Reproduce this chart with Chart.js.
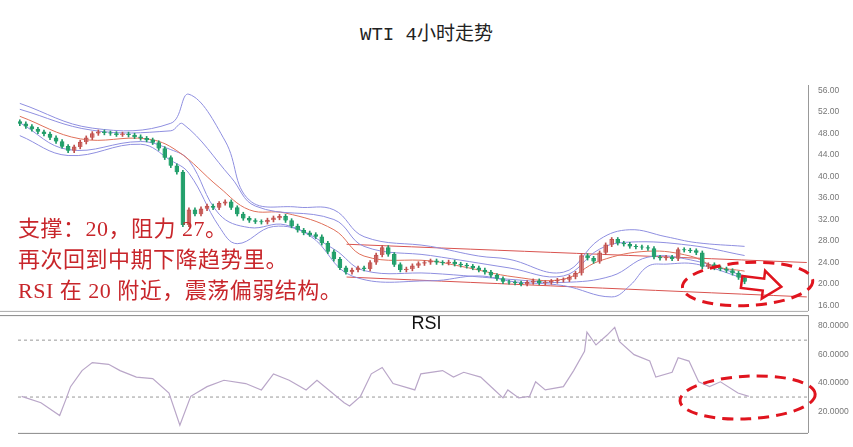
<!DOCTYPE html>
<html><head><meta charset="utf-8">
<script src="https://cdn.jsdelivr.net/npm/chart.js@4.4.0/dist/chart.umd.min.js"></script>
<style>
body{margin:0;background:#fff;width:853px;height:447px;overflow:hidden;position:relative;font-family:"Noto Sans CJK SC",sans-serif}
#title{position:absolute;top:18px;left:0;width:853px;text-align:center;font:19px "Liberation Mono","Noto Sans CJK SC";color:#222}
#note{position:absolute;left:18px;top:213px;color:#c8262b;font:22px/31px "Liberation Serif","Noto Sans CJK SC";pointer-events:none;letter-spacing:0.5px}
#pc{position:absolute;left:0;top:78px}
#rc{position:absolute;left:0;top:308px}
#rsiLbl{position:absolute;left:0;width:853px;top:313px;text-align:center;font:18px "Liberation Sans",Arial;color:#111}
</style></head><body>
<div id="title">WTI 4小时走势</div>
<canvas id="pc" width="853" height="240"></canvas>
<canvas id="rc" width="853" height="132"></canvas>
<div id="rsiLbl">RSI</div>
<div id="note">支撑：20，阻力 27。<br>再次回到中期下降趋势里。<br>RSI 在 20 附近，震荡偏弱结构。</div>
<script>
const firstOpen = 50.2;
const closes = [49.8,49.3,48.8,48.3,47.9,47.2,46.5,45.6,44.8,45.5,46.4,47.2,48.0,48.3,48.1,48.0,47.8,47.9,47.7,47.4,
  47.1,46.8,46.3,45.2,43.5,42.0,40.8,31.0,33.8,33.0,34.0,34.5,34.2,35.0,35.3,34.2,33.0,32.2,31.8,31.6,
  31.5,31.9,32.3,32.6,31.8,30.8,30.0,29.5,29.2,28.8,27.6,26.0,24.6,23.0,22.2,22.6,23.0,22.8,24.0,25.4,
  26.8,25.5,23.6,22.6,22.8,23.4,23.8,24.0,24.3,24.0,23.9,24.1,23.7,23.5,23.3,23.0,22.6,22.2,21.6,21.0,
  20.4,20.3,20.2,20.0,20.3,20.6,20.2,20.3,20.5,20.7,20.8,21.3,22.0,25.3,24.8,24.2,25.8,27.3,28.3,27.6,
  27.4,27.0,26.9,26.8,26.6,25.0,24.8,25.0,24.7,26.4,26.3,26.2,25.8,23.2,23.6,23.0,22.8,22.5,22.0,21.2,20.4];

const upIdx = [0,12,25,28,34,38,46,52,57,68,76,81,90,96,101,107,112,120];
const upVal = [53.6,49.0,49.9,55.3,46.6,35.6,34.3,33.8,28.8,27,25.2,24.6,22.2,28.3,30.1,28.8,27.7,27];
const upInIdx = [0,12,25,27,35,39,52,57,68,81,90,96,101,111,120];
const upInVal = [52.5,48.6,48.5,49.8,39.8,34.5,32,27,25.3,23,21.5,26.5,27.8,27.2,25.3];
const midIdx = [0,10,21,26,33,38,44,52,57,68,73,82,90,96,104,111,115,120];
const midVal = [51.2,47,47,44.8,38,33.8,33.2,30.1,25.2,24.3,23.3,21.3,20.9,24.3,26.1,25.2,23.3,22.4];
const lowInIdx = [0,8,20,25,28,33,38,44,52,57,68,82,90,98,104,111,120];
const lowInVal = [50,45,46.5,45,43,33,30.5,31,26.5,22.5,22,20.8,20.3,21.5,25,24.5,21.5];
const lowIdx = [0,8,20,25,28,33,36,42,48,55,68,76,82,90,98,101,104,107,112,120];
const lowVal = [47.6,43.9,46,43,40.6,30.7,27.5,30.7,29,21.5,20.6,21.5,20.4,19.7,17.6,19.7,23.3,23.7,23.7,21];
const resIdx = [54.1,130.3], resVal = [27.4,24.0];
const supIdx = [54.1,130.3], supVal = [21.3,17.6];
const priceTicks = [16,20,24,28,32,36,40,44,48,52,56];

const rsiIdx = [0.3,3.5,6.6,7.6,8.4,10.3,12,14.7,16.6,19.3,22,24.7,26.5,28.3,31,33.8,37.4,40,42,44.6,47.4,49.2,53.7,54.6,56.4,58.2,60,61.8,65.4,66.4,70,71.8,73.5,76.3,78.6,80,80.8,82.6,84.4,85.4,87,90,91.7,93.5,93.9,95.4,97.2,98.5,99.3,101.7,104.3,105.3,108,109,110.8,112.4,114.2,116,118.9,120.7];
const rsiVal = [30.5,26,17,28,37.3,48.6,54.2,53,48.6,44,43,32.8,10.2,30.5,37.3,41.8,39.5,35,46.3,41.8,35,41.8,26,23.7,30.5,46.3,50.8,39.5,35,46.3,48.6,44,47.4,44,35,29.4,35,29.4,30.5,40.7,35,37.3,48.6,62.1,75.6,66.6,73.4,79,68.9,59.8,55.3,44,47.4,57.6,55.3,40.7,37.3,40.7,32.8,30.5];
const rsiLevels = [70,30];
const rsiTicks = [20,40,60,80];

// ellipse / arrow annotations: [centerIdx, centerValue, radiusIdx, radiusValue]
const priceEllipse = [120.5, 20.0, 10.8, 4.0];
const rsiEllipse = [120.5, 29.7, 11.2, 15];

const pts = (xs, ys) => xs.map((x, i) => ({x, y: ys[i]}));
const opens = closes.map((c, i) => i === 0 ? firstOpen : closes[i - 1]);
const upColor = '#c0504d', dnColor = '#1f9a68';
const cColors = closes.map((c, i) => c >= opens[i] ? upColor : dnColor);
const bodies = closes.map((c, i) => {
  let lo = Math.min(c, opens[i]), hi = Math.max(c, opens[i]);
  if (hi - lo < 0.12) hi = lo + 0.12;
  return {x: i, y: [lo, hi]};
});
const wicks = closes.map((c, i) => ({x: i, y: [Math.min(c, opens[i]) - 0.35, Math.max(c, opens[i]) + 0.35]}));

const line = (data, color, w) => ({type: 'line', data, borderColor: color, borderWidth: w || 1, pointRadius: 0, fill: false, tension: 0.4});

const ellipsePlugin = (ell, arrow) => ({
  id: 'ell',
  afterDatasetsDraw(chart) {
    const {ctx, scales: {x, y}} = chart;
    const cx = x.getPixelForValue(ell[0]), cy = y.getPixelForValue(ell[1]);
    const rx = x.getPixelForValue(ell[0] + ell[2]) - cx, ry = cy - y.getPixelForValue(ell[1] + ell[3]);
    ctx.save();
    ctx.strokeStyle = '#e0141e'; ctx.lineWidth = 3; ctx.setLineDash([11, 7]);
    ctx.beginPath(); ctx.ellipse(cx, cy, rx, ry, -0.05, 0, Math.PI * 2); ctx.stroke();
    if (arrow) {
      ctx.setLineDash([]); ctx.lineWidth = 2.5;
      ctx.translate(cx - 6, cy - 2); ctx.rotate(0.12);
      ctx.beginPath();
      ctx.moveTo(0, -6); ctx.lineTo(22, -6); ctx.lineTo(22, -14); ctx.lineTo(40, 0);
      ctx.lineTo(22, 14); ctx.lineTo(22, 6); ctx.lineTo(0, 6); ctx.closePath(); ctx.stroke();
    }
    ctx.restore();
  }
});

const fixedRight = {afterFit(s) { s.width = 45; }};

new Chart(document.getElementById('pc'), {
  type: 'bar',
  data: {datasets: [
    {data: wicks, backgroundColor: cColors, barThickness: 1, grouped: false},
    {data: bodies, backgroundColor: cColors.map(c => c === upColor ? '#e59a97' : '#3cb880'), borderColor: cColors, borderWidth: 1, barThickness: 4, grouped: false},
    line(pts(upIdx, upVal), '#8f8fe0'),
    line(pts(upInIdx, upInVal), '#8f8fe0'),
    line(pts(midIdx, midVal), '#e0705a'),
    line(pts(lowInIdx, lowInVal), '#8f8fe0'),
    line(pts(lowIdx, lowVal), '#8f8fe0'),
    line(pts(resIdx, resVal), '#d9534f'),
    line(pts(supIdx, supVal), '#d9534f')
  ]},
  options: {
    responsive: false, animation: false, events: [],
    layout: {padding: {top: 5.6, bottom: 5.5, left: 18}},
    plugins: {legend: {display: false}, tooltip: {enabled: false}},
    scales: {
      x: {type: 'linear', min: -0.3, max: 130.5, display: false, offset: false},
      y: {position: 'right', min: 15, max: 57, ...fixedRight,
        afterBuildTicks(s) { s.ticks = priceTicks.map(v => ({value: v})); },
        grid: {display: false, drawTicks: true}, border: {color: '#999'},
        ticks: {font: {size: 8.5}, color: '#777', padding: 2, callback: v => v.toFixed(2)}}
    }
  },
  plugins: [ellipsePlugin(priceEllipse, true), {id: 'frame', afterDraw(c) {
    const {ctx, chartArea: a} = c; ctx.save(); ctx.strokeStyle = '#aaa';
    ctx.beginPath(); ctx.moveTo(0, a.bottom + 0.5); ctx.lineTo(a.right, a.bottom + 0.5); ctx.stroke(); ctx.restore();
  }}]
});

new Chart(document.getElementById('rc'), {
  type: 'line',
  data: {datasets: [
    {data: pts(rsiIdx, rsiVal), borderColor: '#b9a6c8', borderWidth: 1.2, pointRadius: 0, tension: 0},
    ...rsiLevels.map(v => ({data: [{x: -0.3, y: v}, {x: 130.5, y: v}], borderColor: '#999', borderWidth: 1, borderDash: [3, 3], pointRadius: 0}))
  ]},
  options: {
    responsive: false, animation: false, events: [],
    layout: {padding: {top: 0, bottom: 7, left: 18}},
    plugins: {legend: {display: false}, tooltip: {enabled: false}},
    scales: {
      x: {type: 'linear', min: -0.3, max: 130.5, display: false},
      y: {position: 'right', min: 4.8, max: 87.6, ...fixedRight,
        afterBuildTicks(s) { s.ticks = rsiTicks.map(v => ({value: v})); },
        grid: {display: false}, border: {color: '#999'},
        ticks: {font: {size: 8.5}, color: '#777', padding: 2, callback: v => v.toFixed(4)}}
    }
  },
  plugins: [ellipsePlugin(rsiEllipse, false), {id: 'frame2', afterDraw(c) {
    const {ctx, chartArea: a} = c; ctx.save(); ctx.strokeStyle = '#888';
    ctx.beginPath(); ctx.moveTo(0, a.top + 0.5); ctx.lineTo(a.right, a.top + 0.5);
    ctx.moveTo(a.left, a.bottom + 0.5); ctx.lineTo(a.right, a.bottom + 0.5); ctx.stroke(); ctx.restore();
  }}]
});
</script>
</body></html>
